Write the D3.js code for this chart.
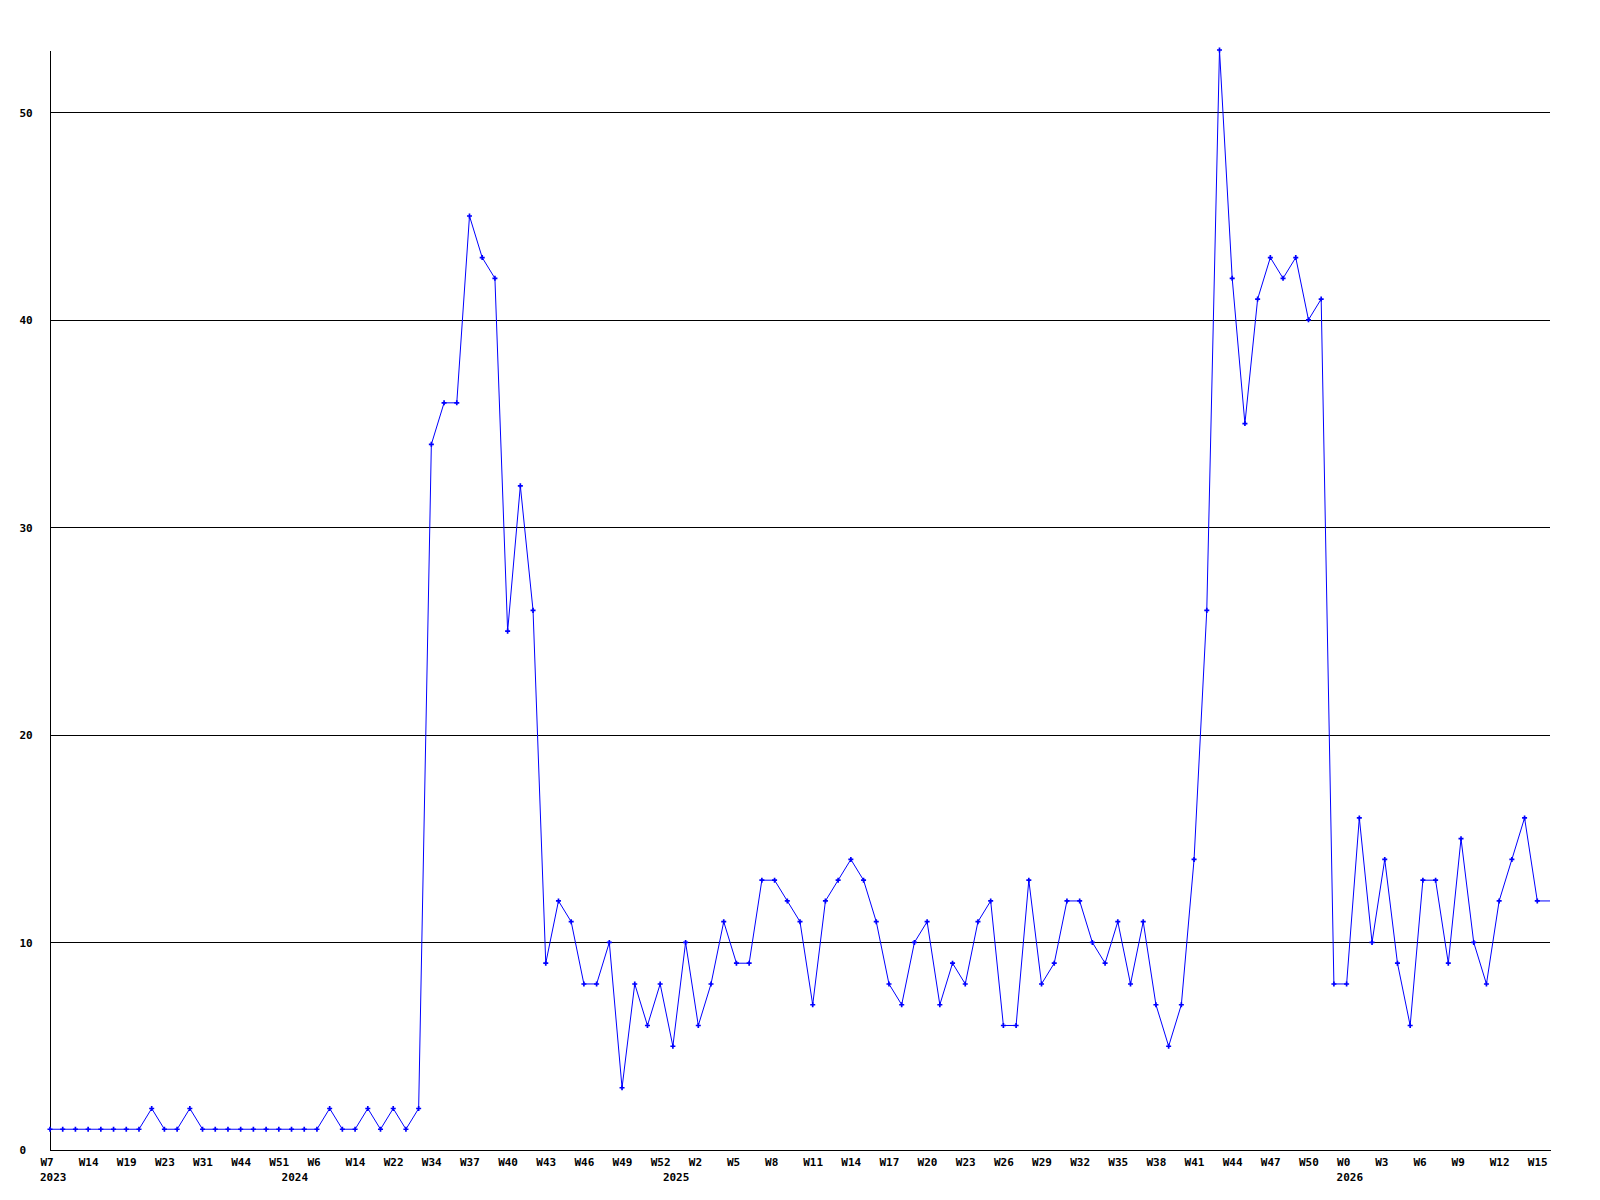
<!DOCTYPE html>
<html>
<head>
<meta charset="utf-8">
<script src="https://cdn.jsdelivr.net/npm/d3@7"></script>
<style>
  body { margin: 0; background: #fff; }
  svg { display: block; }
  .tick text, .year { font-family: "DejaVu Sans Mono", monospace; font-weight: bold; font-size: 11px; fill: #000; }
</style>
</head>
<body>
<svg id="chart"></svg>
<script>
// weekly counts, one per point (the last one is the running, unmarked week)
const values = [
  1, 1, 1, 1, 1, 1, 1, 1, 2, 1, 1, 2, 1, 1, 1, 1, 1, 1, 1, 1,
  1, 1, 2, 1, 1, 2, 1, 2, 1, 2, 34, 36, 36, 45, 43, 42, 25, 32, 26, 9,
  12, 11, 8, 8, 10, 3, 8, 6, 8, 5, 10, 6, 8, 11, 9, 9, 13, 13, 12, 11,
  7, 12, 13, 14, 13, 11, 8, 7, 10, 11, 7, 9, 8, 11, 12, 6, 6, 13, 8, 9,
  12, 12, 10, 9, 11, 8, 11, 7, 5, 7, 14, 26, 53, 42, 35, 41, 43, 42, 43, 40,
  41, 8, 8, 16, 10, 14, 9, 6, 13, 13, 9, 15, 10, 8, 12, 14, 16, 12, 12
];

// a label every third point
const weekLabels = [
  "W7", "W14", "W19", "W23", "W31", "W44", "W51", "W6", "W14", "W22",
  "W34", "W37", "W40", "W43", "W46", "W49", "W52", "W2", "W5", "W8",
  "W11", "W14", "W17", "W20", "W23", "W26", "W29", "W32", "W35", "W38",
  "W41", "W44", "W47", "W50", "W0", "W3", "W6", "W9", "W12", "W15"
];
const labelStep = 3;

// first point of each year
const years = ["2023", "2024", "2025", "2026"];
const yearIndex = [0, 19, 49, 102];

const yTicks = [0, 10, 20, 30, 40, 50];
const yMax = 53;

const width = 1600, height = 1200;
const margin = { top: 50, right: 50, bottom: 50, left: 50 };

const svg = d3.select("#chart").attr("width", width).attr("height", height);

const x = d3.scaleLinear()
  .domain([0, values.length - 1])
  .range([margin.left, width - margin.right]);

const y = d3.scaleLinear()
  .domain([0, yMax])
  .range([height - margin.bottom, margin.top]);

// horizontal grid lines
svg.append("g")
  .attr("transform", "translate(" + margin.left + ",0)")
  .call(d3.axisLeft(y)
    .tickValues(yTicks.filter(d => d > 0))
    .tickSizeInner(-(width - margin.left - margin.right))
    .tickSizeOuter(0)
    .tickFormat(""))
  .call(g => g.select(".domain").remove())
  .call(g => g.selectAll("line").attr("stroke", "#000").attr("shape-rendering", "crispEdges"));

// y axis, labels sit left aligned
svg.append("g")
  .attr("transform", "translate(" + margin.left + ",0)")
  .call(d3.axisLeft(y).tickValues(yTicks).tickSize(0).tickFormat(d3.format("d")))
  .call(g => g.select(".domain").attr("stroke", "#000").attr("shape-rendering", "crispEdges"))
  .call(g => g.selectAll("text").attr("text-anchor", "start").attr("x", -30.5).attr("dy", "0.35em"));

// x axis with week labels
const tickIdx = weekLabels.map((d, i) => i * labelStep);
svg.append("g")
  .attr("transform", "translate(0," + y(0) + ")")
  .call(d3.axisBottom(x)
    .tickValues(tickIdx)
    .tickSize(0)
    .tickSizeOuter(0)
    .tickFormat((d, i) => weekLabels[i]))
  .call(g => g.select(".domain").attr("stroke", "#000").attr("shape-rendering", "crispEdges"))
  .call(g => g.selectAll("text").attr("text-anchor", "start").attr("x", -10).attr("y", 16).attr("dy", 0));

// year labels below
svg.append("g")
  .selectAll("text")
  .data(years)
  .join("text")
  .attr("class", "year")
  .attr("x", (d, i) => x(yearIndex[i]) - 10)
  .attr("y", y(0) + 31)
  .text(d => d);

// data line
const line = d3.line()
  .x((d, i) => x(i))
  .y(d => y(d));

svg.append("path")
  .datum(values)
  .attr("fill", "none")
  .attr("stroke", "#0000ff")
  .attr("stroke-width", 1)
  .attr("d", line);

// point markers, none on the unfinished last week
svg.append("g")
  .selectAll("path")
  .data(values.slice(0, values.length - 1))
  .join("path")
  .attr("transform", (d, i) => "translate(" + x(i) + "," + y(d) + ")")
  .attr("d", d3.symbol(d3.symbolCross, 14))
  .attr("fill", "#0000ff");
</script>
</body>
</html>
